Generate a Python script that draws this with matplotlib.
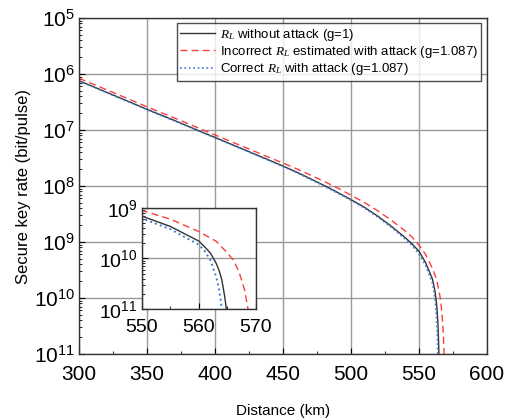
import matplotlib
matplotlib.use("Agg")
import matplotlib.pyplot as plt
from matplotlib.ticker import LogLocator, FuncFormatter, NullFormatter, MultipleLocator
import numpy as np

plt.rcParams['font.family'] = ['Liberation Sans', 'DejaVu Sans']
plt.rcParams['mathtext.fontset'] = 'custom'
plt.rcParams['mathtext.rm'] = 'Liberation Sans'
plt.rcParams['mathtext.it'] = 'Liberation Serif:italic'

# secure key rate vs distance, read per series
dist_noattack = [300, 310, 320, 330, 340, 350, 360, 370, 380, 390, 400, 410, 420,
                 430, 440, 450, 460, 470, 480, 490, 500, 510, 520, 530, 540, 545,
                 550, 555, 560, 561, 562, 563, 563.5, 564, 564.5, 564.8]
rate_noattack = [7.6e-7, 6.03e-7, 4.76e-7, 3.77e-7, 2.98e-7, 2.35e-7, 1.87e-7,
                 1.49e-7, 1.18e-7, 9.3e-8, 7.4e-8, 5.86e-8, 4.63e-8, 3.66e-8,
                 2.9e-8, 2.28e-8, 1.78e-8, 1.36e-8, 1.035e-8, 7.76e-9, 5.75e-9,
                 4.17e-9, 2.88e-9, 1.9e-9, 1.2e-9, 9.3e-10, 6.9e-10, 4.3e-10,
                 2.2e-10, 1.7e-10, 1.28e-10, 8.1e-11, 5.9e-11, 3.8e-11, 1.8e-11, 1e-11]

dist_wrong = [300, 310, 320, 330, 340, 350, 360, 370, 380, 390, 400, 410, 420,
              430, 440, 450, 460, 470, 480, 490, 500, 510, 520, 530, 540, 545,
              550, 555, 560, 563, 565, 566, 567, 568, 568.6]
rate_wrong = [8.41e-7, 6.67e-7, 5.28e-7, 4.18e-7, 3.3e-7, 2.61e-7, 2.07e-7,
              1.65e-7, 1.31e-7, 1.035e-7, 8.2e-8, 6.52e-8, 5.16e-8, 4.09e-8,
              3.24e-8, 2.58e-8, 2.04e-8, 1.58e-8, 1.22e-8, 9.3e-9, 6.9e-9,
              5.07e-9, 3.59e-9, 2.43e-9, 1.58e-9, 1.23e-9, 8.9e-10, 6.0e-10,
              3.4e-10, 2.2e-10, 1.28e-10, 9.4e-11, 5.5e-11, 2.4e-11, 1e-11]

dist_correct = [300, 310, 320, 330, 340, 350, 360, 370, 380, 390, 400, 410, 420,
                430, 440, 450, 460, 470, 480, 490, 500, 510, 520, 530, 540, 545,
                550, 555, 560, 561, 562, 563, 563.5, 563.7, 564]
rate_correct = [7.5e-7, 5.95e-7, 4.7e-7, 3.72e-7, 2.94e-7, 2.32e-7, 1.84e-7,
                1.47e-7, 1.16e-7, 9.15e-8, 7.3e-8, 5.77e-8, 4.56e-8, 3.6e-8,
                2.85e-8, 2.24e-8, 1.75e-8, 1.33e-8, 1.01e-8, 7.55e-9, 5.6e-9,
                4.05e-9, 2.78e-9, 1.82e-9, 1.13e-9, 8.7e-10, 6.2e-10, 3.8e-10,
                1.86e-10, 1.4e-10, 9.3e-11, 4.4e-11, 2.6e-11, 1.8e-11, 1e-11]

labels = [r'$R_L$ without attack (g=1)',
          r'Incorrect $R_L$ estimated with attack (g=1.087)',
          r'Correct $R_L$ with attack (g=1.087)']

c_black = '#333333'
c_red = '#ff3b3b'
c_blue = '#3a7bd5'


def pow_fmt(v, pos):
    e = int(round(-np.log10(v)))
    return r'$\mathrm{10^{%d}}$' % e


def style_axes(ax, size, xpad):
    ax.set_yscale('log')
    ax.yaxis.set_major_formatter(FuncFormatter(pow_fmt))
    ax.yaxis.set_minor_locator(LogLocator(base=10, subs=np.arange(2, 10)))
    ax.yaxis.set_minor_formatter(NullFormatter())
    ax.tick_params(which='both', direction='in', top=False, right=False,
                   labelsize=size)
    ax.tick_params(axis='y', pad=3)
    ax.tick_params(axis='x', pad=xpad)
    ax.tick_params(which='major', length=4, width=0.8)
    ax.tick_params(which='minor', length=2, width=0.6)
    ax.grid(True, which='major', color='#9a9a9a', lw=1.0)
    ax.set_axisbelow(True)
    for s in ax.spines.values():
        s.set_color('#333333')
        s.set_linewidth(1.0)


fig = plt.figure(figsize=(5.06, 4.2), dpi=100)
ax = fig.add_axes([0.156, 0.157, 0.806, 0.8])

ax.plot(dist_noattack, rate_noattack, '-', color=c_black, lw=1.0, label=labels[0])
ax.plot(dist_wrong, rate_wrong, '--', color=c_red, lw=1.0, dashes=(5, 3), label=labels[1])
ax.plot(dist_correct, rate_correct, ':', color=c_blue, lw=1.2, label=labels[2])

ax.set_xlim(300, 600)
ax.set_ylim(1e-11, 1e-5)
ax.xaxis.set_major_locator(MultipleLocator(50))
ax.xaxis.set_minor_locator(MultipleLocator(25))
style_axes(ax, 15, 8)
ax.set_xlabel('Distance (km)', fontsize=11, labelpad=14)
ax.set_ylabel('Secure key rate (bit/pulse)', fontsize=12, labelpad=2)

leg = ax.legend(loc='upper right', fontsize=9.5, frameon=True, fancybox=False,
                handlelength=2.6, handletextpad=0.4, borderpad=0.25,
                labelspacing=0.1, borderaxespad=0.4)
leg.get_frame().set_edgecolor('#222222')
leg.get_frame().set_linewidth(1.0)

# zoomed view of the cut-off region
axin = fig.add_axes([0.2806, 0.2643, 0.2253, 0.2405])
axin.set_facecolor('white')
axin.plot(dist_noattack, rate_noattack, '-', color=c_black, lw=1.0)
axin.plot(dist_wrong, rate_wrong, '--', color=c_red, lw=1.0, dashes=(5, 3))
axin.plot(dist_correct, rate_correct, ':', color=c_blue, lw=1.4)
axin.set_xlim(550, 570)
axin.set_ylim(1e-11, 1e-9)
axin.xaxis.set_major_locator(MultipleLocator(10))
axin.xaxis.set_minor_locator(MultipleLocator(5))
style_axes(axin, 14, 7)

fig.savefig('out.png', dpi=100)
